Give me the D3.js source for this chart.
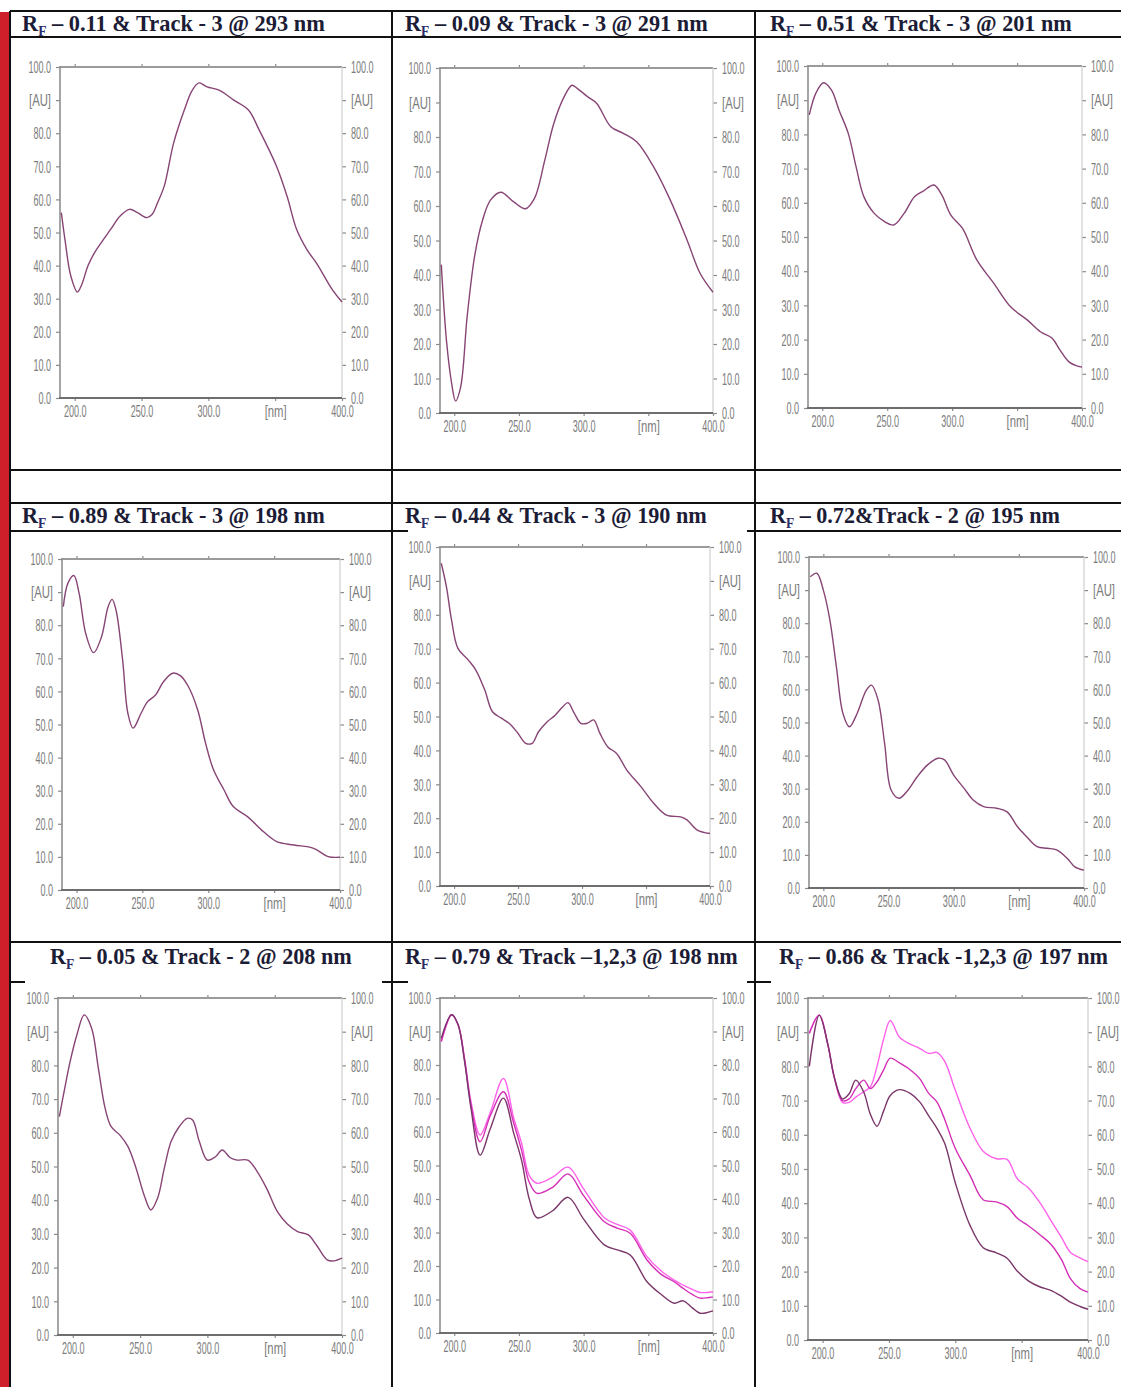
<!DOCTYPE html>
<html>
<head>
<meta charset="utf-8">
<script src="https://cdn.jsdelivr.net/npm/d3@7"></script>
<style>
  body { margin: 0; background: #fff; }
  svg { display: block; }
  .tick text { font-family: "Liberation Sans", Arial, sans-serif; font-size: 16px; fill: #7c7c7c; }
  .title { font-family: "Liberation Serif", "Times New Roman", serif; font-weight: bold; font-size: 23px; fill: #1c1c36; }
</style>
</head>
<body>
<svg id="fig" width="1121" height="1387"></svg>
<script>
// ---- Spectra (wavelength in nm, absorbance in AU) ----
const nm1 = [190,193,197,202,205,210,215,220,227,234,241,247,254,258,262,267,274,282,288,293,299,308,319,330,338,351,359,366,374,381,393,400];
const au1 = [56,47,37,32,34,40,44,47,51,55,57,56,54.5,55.5,59,64,77,87,93,95.2,94,93,90,87,81,70,60.8,51,44.7,40.7,32.6,29];

const nm2 = [190,194,198,201,205,210,216,222,228,236,246,255,262,270,277,285,291,295,303,310,321,331,341,354,367,380,390,400];
const au2 = [43,21,8.6,3.5,7.6,28,46,56,61.7,64,61.2,59.2,62.2,73.3,84,91.7,95,94.1,91.7,89.8,83,81,78.6,71.4,61.7,50.1,40.5,35];

const nm3 = [190,195,201,207,213,220,226,232,240,248,255,263,271,278,286,292,299,308,319,332,345,358,368,377,383,390,398,400];
const au3 = [85.7,92,95.1,93,87,80.3,70.6,61.8,56.9,54.5,53.5,56.9,61.8,63.5,65.2,62.3,56.4,52.5,43.3,36.5,29.6,25.7,22.3,20.4,17,13.5,12.1,12];

const nm4 = [190,193.5,198,202,207,213,219,224,227,230,235,239,243,249,254,260,266,273,279,285,292,298,304,312,319,330,342,352,365,380,391,400];
const au4 = [85.6,92.7,95,89.6,77.5,71.7,76.5,85.6,87.8,84.6,69.5,53.4,48.9,53.4,56.9,58.9,62.9,65.5,64.7,61.4,54.4,44.3,36.3,30.2,25.2,22.1,17.6,14.6,13.6,12.6,10.1,9.9];

const nm5 = [190,194,198,203,211,217,224,230,237,243,250,256,261,266,273,279,285,289,294,299,304,309,314,320,327,335,346,356,366,377,382,390,400];
const au5 = [95.2,88.3,78.5,70.1,66.7,63.7,57.8,51.4,49.5,48,45,42.1,42.1,45.5,48.5,50.4,52.9,54.1,50.9,48,48,49,45,41.1,39.1,34.2,29.3,24.4,20.9,20.4,19.5,16.5,15.5];

const nm6 = [190,195,200,205,210,215,220,226,233,237,242,247,252,258,265,272,280,288,293,300,308,315,323,333,341,349,356,364,372,379,387,393,400];
const au6 = [94,95.1,90,81,66.9,52.8,48.7,52.8,59.8,61.3,56.8,43.7,29.6,27.1,29.6,33.6,37.2,39.2,38.7,34.1,30.1,26.6,24.6,24.1,23,18.5,15.5,12.5,12,11.5,9,6.4,5.4];

const nm7 = [190,194,198,203,208.5,214,219,224,228.5,235,241,247,253,258,263,268,273,279,285,289,294,300,306,311,317,322,330,337,344,352,359,367,375,381,389,394,400];
const au7 = [64.8,73.2,81.1,89,95,91,79.1,67.3,61.8,59.3,55.9,49.5,41.5,37.1,40.6,49.5,57.4,61.8,64.3,63.8,57.4,51.9,52.9,54.9,52.6,51.9,51.9,48.5,43.5,36.6,33.1,30.7,29.7,26.7,22.3,22,22.8];

const nm8 = [190,198,203,208,213,220,228,238,246,252,258,264,276,288,300,316,326,336,349,360,370,377,384,390,400];
const au8Track1 = [88,95,92,81,67,53.1,61.1,70.1,59.6,51.6,40,34.4,36.5,40.5,34,26.3,24.8,23.3,15.3,11.5,8.9,9.6,7.5,5.9,6.6];
const au8Track2 = [87,95,92,81.5,68,57.1,65,72,62.6,54.6,45,41.7,43.5,47.5,41,33.2,31.3,29.8,21.8,17.5,15.3,13.3,11.5,10.4,10.8];
const au8Track3 = [87,95,92,82,69,59.1,66,76,64.1,56.7,47,44.7,46.5,49.5,43,34.4,32.4,30.7,22.8,18.5,15.8,14.3,13,12.1,12.3];

const nm9 = [190,197.5,204,209,215,220,225,231,236,241,246,251,258,266,273,280,286,292,300,311,321,331,339,347,355,364,372,380,387,394,400];
const au9Track1 = [80,95,86.3,76.5,70.5,72,76,72.5,66,62.5,67,71.5,73.2,72.1,69.7,65.5,62,57.5,46,33.6,27,25.5,23.9,20,17.3,15.5,14.5,12.8,11,9.8,9];
const au9Track2 = [89.7,95,86.3,76.5,70,70.5,73.5,76,73.5,75.5,79,82.4,81,79,76.5,72.1,69.7,64.5,56,48.2,41,40.4,39,35.5,33.4,30.7,28,23.5,17.8,15,14];
const au9Track3 = [89.7,95,86.3,76.5,69.5,69.5,71,72.6,74,80,88,93.4,88.5,86.5,85.3,83.8,84.1,81.5,73,62,55.2,53,52.8,47,44.5,40,35,30,25.5,24,22.9];

// ---- Titles ----
const rfValues   = ["0.11", "0.09", "0.51", "0.89", "0.44", "0.72", "0.05", "0.79", "0.86"];
const trackTexts = [" & Track - 3", " & Track - 3", " & Track - 3", " & Track - 3", " & Track - 3",
                    "&Track - 2", " & Track - 2", " & Track \u20131,2,3", " & Track -1,2,3"];
const lambdaMax  = ["293", "291", "201", "198", "190", "195", "208", "198", "197"];

// ---- Axis ticks ----
const yTickValues = [0, 10, 20, 30, 40, 50, 60, 70, 80, 90, 100];
const yTickLabels = ["0.0", "10.0", "20.0", "30.0", "40.0", "50.0", "60.0", "70.0", "80.0", "[AU]", "100.0"];
const xTickValues = [200, 250, 300, 350, 400];
const xTickLabels = ["200.0", "250.0", "300.0", "[nm]", "400.0"];
const xDomain = [189, 400];
const yDomain = [0, 100];

// ---- Series per panel (row by row) ----
const panelSeries = [
  [{ nm: nm1, au: au1, track: "single" }],
  [{ nm: nm2, au: au2, track: "single" }],
  [{ nm: nm3, au: au3, track: "single" }],
  [{ nm: nm4, au: au4, track: "single" }],
  [{ nm: nm5, au: au5, track: "single" }],
  [{ nm: nm6, au: au6, track: "single" }],
  [{ nm: nm7, au: au7, track: "single" }],
  [{ nm: nm8, au: au8Track3, track: "t3" }, { nm: nm8, au: au8Track2, track: "t2" }, { nm: nm8, au: au8Track1, track: "t1" }],
  [{ nm: nm9, au: au9Track3, track: "t3" }, { nm: nm9, au: au9Track2, track: "t2" }, { nm: nm9, au: au9Track1, track: "t1" }]
];

// ---- Layout (page pixels) ----
const plotFrames = [
  { l: 60,  t: 67,  r: 342,  b: 398 },
  { l: 440, t: 68,  r: 713,  b: 413 },
  { l: 808, t: 66,  r: 1082, b: 408 },
  { l: 62,  t: 559, r: 340,  b: 890 },
  { l: 440, t: 547, r: 710,  b: 886 },
  { l: 809, t: 557, r: 1084, b: 888 },
  { l: 58,  t: 998, r: 342,  b: 1335 },
  { l: 440, t: 998, r: 713,  b: 1333 },
  { l: 808, t: 998, r: 1088, b: 1340 }
];
const titleFrames = [
  { x: 22,  y: 31,  w: 303 }, { x: 405, y: 31,  w: 303 }, { x: 770, y: 31,  w: 302 },
  { x: 22,  y: 523, w: 303 }, { x: 405, y: 523, w: 302 }, { x: 770, y: 523, w: 290 },
  { x: 50,  y: 964, w: 302 }, { x: 405, y: 964, w: 333 }, { x: 779, y: 964, w: 329 }
];
const trackColors = { single: "#874475", t1: "#7a3669", t2: "#d42fb6", t3: "#ff62ea" };

const svg = d3.select("#fig");
svg.append("rect").attr("width", 1121).attr("height", 1387).attr("fill", "#fff");

// red page margin strip
svg.append("rect").attr("x", 0).attr("y", 12).attr("width", 9).attr("height", 1375).attr("fill", "#cf1f2a");

// table rules: [x1, x2, y] horizontals and [x, y1, y2] verticals
const hRules = [
  [10, 1121, 11], [10, 1121, 37], [10, 1121, 470], [10, 1121, 503],
  [10, 392, 531], [392, 408, 531], [747, 1121, 531],
  [10, 1121, 942],
  [10, 25, 982], [382, 408, 982], [747, 771, 982]
];
const vRules = [[10, 11, 1387], [392, 11, 1387], [755, 11, 1387]];
const rules = svg.append("g").attr("stroke", "#111").attr("stroke-width", 2);
rules.selectAll("line.h").data(hRules).join("line").attr("class", "h")
  .attr("x1", d => d[0]).attr("x2", d => d[1]).attr("y1", d => d[2]).attr("y2", d => d[2]);
rules.selectAll("line.v").data(vRules).join("line").attr("class", "v")
  .attr("x1", d => d[0]).attr("x2", d => d[0]).attr("y1", d => d[1]).attr("y2", d => d[2]);

// condensed width of a tick label
function labelWidth(s) {
  if (s.startsWith("[")) return 22;
  const digits = (s.match(/\d/g) || []).length;
  const dots = (s.match(/\./g) || []).length;
  return digits * 5 + dots * 2.6;
}
function condense(sel) {
  sel.selectAll(".tick text").each(function () {
    const t = d3.select(this);
    t.attr("textLength", labelWidth(t.text())).attr("lengthAdjust", "spacingAndGlyphs");
  });
}

plotFrames.forEach((f, i) => {
  const x = d3.scaleLinear().domain(xDomain).range([f.l, f.r]);
  const y = d3.scaleLinear().domain(yDomain).range([f.b, f.t]);
  const g = svg.append("g");

  // left axis
  const left = g.append("g").attr("transform", `translate(${f.l},0)`)
    .call(d3.axisLeft(y).tickValues(yTickValues).tickSize(4).tickPadding(5)
      .tickFormat((d, k) => yTickLabels[k]));
  // right axis
  const right = g.append("g").attr("transform", `translate(${f.r},0)`)
    .call(d3.axisRight(y).tickValues(yTickValues).tickSize(4).tickPadding(5)
      .tickFormat((d, k) => yTickLabels[k]));
  // bottom axis
  const bottom = g.append("g").attr("transform", `translate(0,${f.b})`)
    .call(d3.axisBottom(x).tickValues(xTickValues).tickSize(3).tickPadding(5)
      .tickFormat((d, k) => xTickLabels[k]));
  // top ticks only
  const top = g.append("g").attr("transform", `translate(0,${f.t})`)
    .call(d3.axisTop(x).tickValues(xTickValues.slice(0, 4)).tickSize(3).tickFormat(""));

  [left, right, bottom, top].forEach(a => {
    a.select(".domain").remove();
    a.selectAll(".tick line").attr("stroke", "#8a8a8a").attr("stroke-width", 1.2);
    condense(a);
  });
  left.selectAll(".tick text").attr("dy", "0.36em");
  right.selectAll(".tick text").attr("dy", "0.36em");

  // plot frame
  g.append("line").attr("x1", f.l).attr("x2", f.r).attr("y1", f.t).attr("y2", f.t)
    .attr("stroke", "#9b9b9b").attr("stroke-width", 2);
  g.append("line").attr("x1", f.r).attr("x2", f.r).attr("y1", f.t).attr("y2", f.b)
    .attr("stroke", "#cfcfcf").attr("stroke-width", 1.2);
  g.append("line").attr("x1", f.l).attr("x2", f.l).attr("y1", f.t - 1).attr("y2", f.b)
    .attr("stroke", "#8f8f8f").attr("stroke-width", 1.6);
  g.append("line").attr("x1", f.l - 1).attr("x2", f.r).attr("y1", f.b).attr("y2", f.b)
    .attr("stroke", "#6e6e6e").attr("stroke-width", 2);

  // spectra
  const line = d3.line().curve(d3.curveCatmullRom.alpha(0.5));
  panelSeries[i].forEach(s => {
    const pts = s.nm.map((n, k) => [x(n), y(s.au[k])]);
    g.append("path").attr("d", line(pts)).attr("fill", "none")
      .attr("stroke", trackColors[s.track]).attr("stroke-width", 1.4)
      .attr("stroke-linejoin", "round");
  });
});

// titles
titleFrames.forEach((tf, i) => {
  const t = svg.append("text").attr("class", "title");
  t.append("tspan").text("R");
  t.append("tspan").attr("font-size", 14).attr("dy", 5).attr("fill", "#2a2a66").text("F");
  t.append("tspan").attr("dy", -5).text(" \u2013 " + rfValues[i] + trackTexts[i] + " @ " + lambdaMax[i] + " nm");
  const w = t.node().getComputedTextLength();
  t.attr("transform", `translate(${tf.x},${tf.y}) scale(${tf.w / w},1)`);
});
</script>
</body>
</html>
